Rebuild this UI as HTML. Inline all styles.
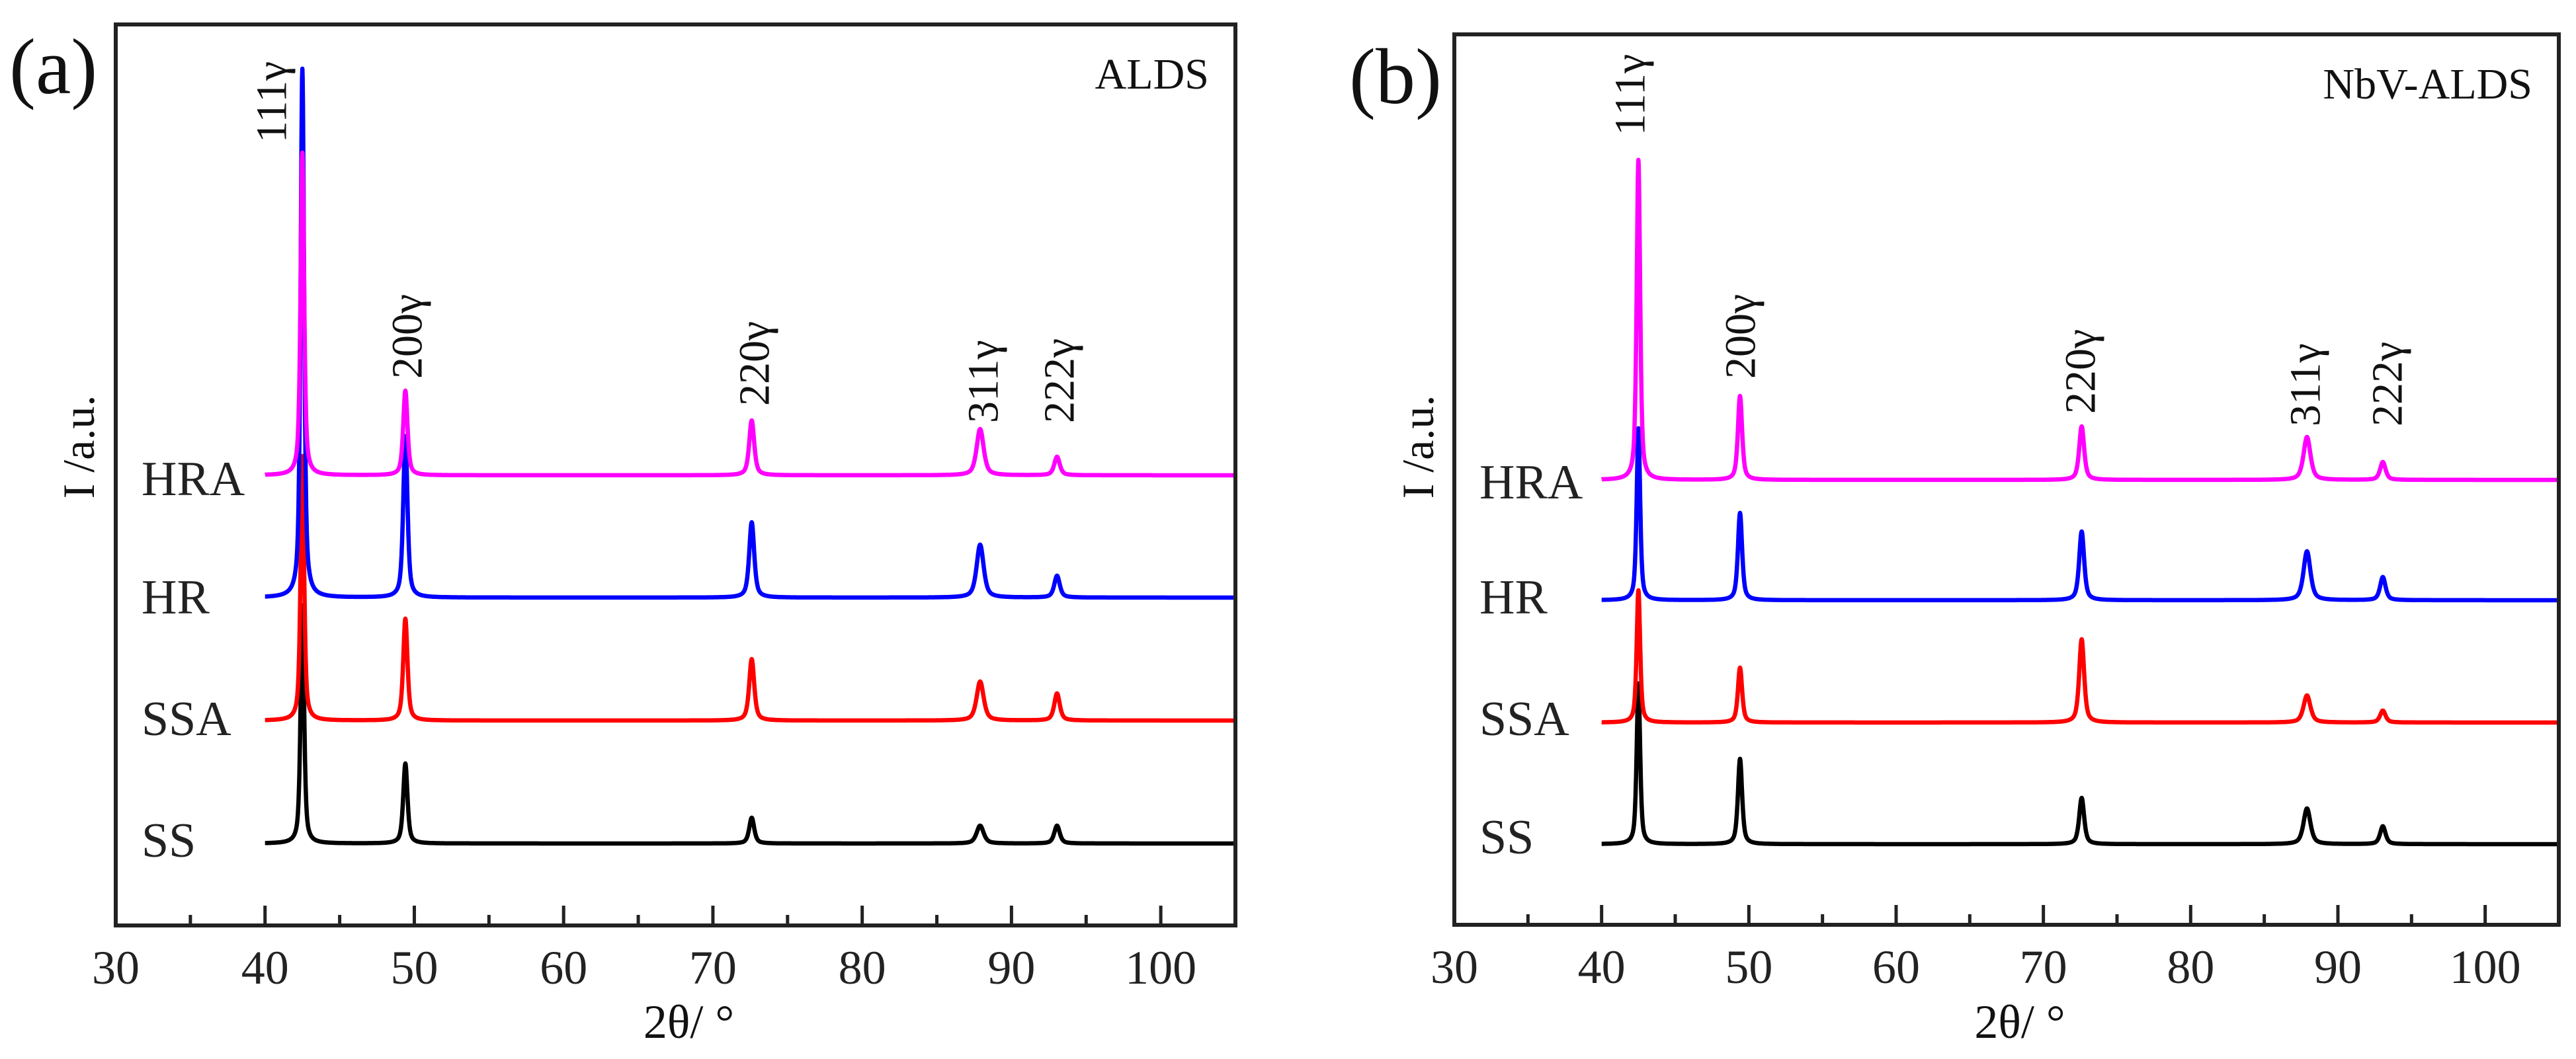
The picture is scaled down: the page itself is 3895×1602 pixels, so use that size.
<!DOCTYPE html>
<html><head><meta charset="utf-8">
<style>
html,body{margin:0;padding:0;background:#fff;}
svg{display:block;font-family:"Liberation Serif","DejaVu Serif",serif;}
</style></head>
<body>
<svg id="fig" width="3895" height="1602" viewBox="0 0 3895 1602" xmlns="http://www.w3.org/2000/svg"></svg>
<script>
// ---- data ----
const seriesNames = ["SS","SSA","HR","HRA"];
const seriesColors = ["#000000","#ff0000","#0000ff","#ff00ff"];
const peakPositions = [42.5, 49.4, 72.6, 87.9, 93.05];
const peakLabels = ["111γ","200γ","220γ","311γ","222γ"];
const peakWidths = [0.14, 0.17, 0.2, 0.28, 0.22];
const xTicks = [30,40,50,60,70,80,90,100];
// heights in px above baseline (relative intensities)
const heightsA_SS  = [360, 121, 39, 27, 27];
const heightsA_SSA = [400, 154, 93, 59, 41];
const heightsA_HR  = [800, 244, 114, 80, 33];
const heightsA_HRA = [488, 128, 83, 70, 28];
const heightsB_SS  = [243, 129, 70, 54, 27];
const heightsB_SSA = [200, 83, 126, 41, 18];
const heightsB_HR  = [260, 132, 104, 74, 35];
const heightsB_HRA = [484, 127, 81, 65, 27];

const NS="http://www.w3.org/2000/svg";
const svg=document.getElementById('fig');
function el(tag,attrs,parent){const e=document.createElementNS(NS,tag);for(const k in attrs)e.setAttribute(k,attrs[k]);(parent||svg).appendChild(e);return e;}

function panel(cfg){
  const g=el('g',{});
  
  
  const X=v=>cfg.x0+(v-30)/(105-30)*(cfg.x1-cfg.x0);
  for(let s=0;s<4;s++){
    const hs=cfg.heights[s], base=cfg.bases[s];
    let d='';
    for(let t=40;t<=105.0001;t+=0.02){
      let y=0;
      for(let p=0;p<peakPositions.length;p++){
        const w=peakWidths[p], dx=(t-peakPositions[p])/w;
        y+=hs[p]*(0.6/(1+dx*dx)+0.4*Math.exp(-0.693*dx*dx));
      }
      d+=(d?'L':'M')+X(t).toFixed(1)+' '+(base-y).toFixed(1);
    }
    const path=el('path',{d:d,fill:'none',stroke:seriesColors[s],'stroke-width':6.5,'stroke-linejoin':'round'},g);
    
    
    const lab=el('text',{x:cfg.labX,y:cfg.labY[s],'font-size':74,fill:'#222'},g);
    lab.textContent=seriesNames[s];
    
    
  }
  const fr=el('rect',{x:cfg.x0,y:cfg.y0,width:cfg.x1-cfg.x0,height:cfg.y1-cfg.y0,fill:'none',stroke:'#222','stroke-width':6},g);
  
  
  for(let v=35;v<=105;v+=5){
    const major=v%10===0;
    const tk=el('line',{x1:X(v),x2:X(v),y1:cfg.y1,y2:cfg.y1-(major?30:16),stroke:'#222','stroke-width':5},g);
    
    
  }
  xTicks.forEach(v=>{
    const t=el('text',{x:X(v),y:cfg.y1+88,'font-size':72,'text-anchor':'middle',fill:'#222'},g);
    t.textContent=v;
    
    
  });
  for(let p=0;p<peakLabels.length;p++){
    const lx=cfg.peakLabX[p], ly=cfg.peakLabY[p];
    const t=el('text',{x:lx,y:ly,'font-size':66,fill:'#111',transform:`rotate(-90 ${lx} ${ly})`,'dominant-baseline':'central'},g);
    t.textContent=peakLabels[p];
    
    
  }
  const ti=el('text',{x:cfg.x1-40,y:cfg.y0+97,'font-size':66,'text-anchor':'end',fill:'#111'},g);
  ti.textContent=cfg.title;
  
  
  const pl=el('text',{x:cfg.pLabX,y:cfg.y0+104,'font-size':120,fill:'#111'},g);
  pl.textContent=cfg.panel;
  
  
  const yt=el('text',{x:cfg.yTitleX,y:676,'font-size':68,'text-anchor':'middle','dominant-baseline':'central',fill:'#111',transform:`rotate(-90 ${cfg.yTitleX} 676)`},g);
  yt.textContent='I /a.u.';
  
  
  const xt=el('text',{x:(cfg.x0+cfg.x1)/2+20,y:1570,'font-size':72,'text-anchor':'middle',fill:'#111'},g);
  xt.textContent='2θ/ °';
  
  
}

panel({name:'panel-a',panel:'(a)',title:'ALDS',x0:175,x1:1868,y0:37,y1:1400,
  bases:[1276,1090,904,719],
  heights:[heightsA_SS,heightsA_SSA,heightsA_HR,heightsA_HRA],
  labX:214,labY:[1296,1112,928,749],
  peakLabX:[411,616,1141,1487,1602],peakLabY:[216,573,614,640,640],
  pLabX:14,yTitleX:119});
panel({name:'panel-b',panel:'(b)',title:'NbV-ALDS',x0:2199,x1:3869,y0:52,y1:1399,
  bases:[1277,1093,908,726],
  heights:[heightsB_SS,heightsB_SSA,heightsB_HR,heightsB_HRA],
  labX:2237,labY:[1291,1112,928,754],
  peakLabX:[2465,2632,3146,3486,3610],peakLabY:[205,573,626,645,645],
  pLabX:2040,yTitleX:2144});
</script>
</body></html>
